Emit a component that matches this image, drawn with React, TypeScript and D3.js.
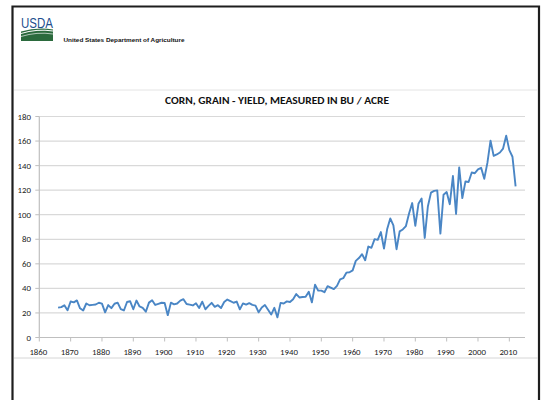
import React from "react";
import * as d3 from "d3";

const FIRST_YEAR = 1866;
const yields: number[] = [
  24.3, 24.7, 26.2, 22.1, 29.3, 28.6, 30.2, 23.8, 22.0, 27.7, // 1866-1875
  26.3, 26.6, 26.9, 28.3, 27.6, 20.5, 26.4, 23.9, 27.5, 28.4, // 1876-1885
  23.1, 22.0, 28.9, 29.5, 23.0, 30.1, 25.3, 24.2, 21.0, 28.4, // 1886-1895
  30.3, 26.5, 27.4, 28.3, 28.1, 18.2, 28.4, 27.0, 27.7, 30.0, // 1896-1905
  31.2, 27.3, 26.8, 26.1, 27.9, 24.0, 29.2, 23.0, 25.8, 28.2, // 1906-1915
  25.0, 26.3, 24.0, 28.9, 30.9, 29.6, 28.3, 29.3, 22.9, 27.8, // 1916-1925
  26.8, 28.0, 26.6, 26.0, 20.5, 24.5, 26.5, 22.6, 18.7, 24.2, // 1926-1935
  16.4, 28.2, 27.7, 29.4, 28.9, 31.2, 35.4, 32.6, 33.0, 33.1, // 1936-1945
  37.2, 28.6, 43.0, 38.2, 38.2, 36.9, 41.8, 40.7, 39.4, 42.0, // 1946-1955
  47.4, 48.3, 52.8, 53.1, 54.7, 62.4, 64.7, 67.9, 62.9, 74.1, // 1956-1965
  73.1, 80.1, 79.5, 85.9, 72.4, 88.1, 97.0, 91.3, 71.9, 86.4, // 1966-1975
  88.0, 90.8, 101.0, 109.5, 91.0, 108.9, 113.2, 81.1, 106.7, 118.0, // 1976-1985
  119.4, 119.8, 84.6, 116.3, 118.5, 108.6, 131.5, 100.7, 138.6, 113.5, // 1986-1995
  127.1, 126.7, 134.4, 133.8, 136.9, 138.2, 129.3, 142.2, 160.3, 147.9, // 1996-2005
  149.1, 150.7, 153.9, 164.4, 152.6, 147.2, 123.1, // 2006-2012
];
const yTicks = [0, 20, 40, 60, 80, 100, 120, 140, 160, 180];
const xTicks = [1860, 1870, 1880, 1890, 1900, 1910, 1920, 1930, 1940, 1950, 1960, 1970, 1980, 1990, 2000, 2010];
const title = "CORN, GRAIN - YIELD, MEASURED IN BU / ACRE";
const agencyName = "United States Department of Agriculture";
const logoText = "USDA";

export default function App() {
  const W = 543, H = 400;
  const x = d3.scaleLinear().domain([1860, 2015]).range([39.3, 525]);
  const y = d3.scaleLinear().domain([0, 180]).range([337.5, 116.5]);
  const points = yields.map((v, i) => [FIRST_YEAR + i, v] as [number, number]);
  const line = d3.line<[number, number]>().x(d => x(d[0])).y(d => y(d[1]));
  const font = "Carlito, Lato, 'Liberation Sans', sans-serif";
  return (
    <svg width={W} height={H} style={{ position: "absolute", left: 0, top: 0, background: "#fff" }}>
      <rect x={0} y={0} width={W} height={H} fill="#fff" />
      {/* frame */}
      <path d={`M12.5,${H + 5} L12.5,6.5 L539,6.5 L539,${H + 5}`} fill="none" stroke="#1e1e1e" strokeWidth={2.2} />
      {/* logo */}
      <text x={21} y={28} fontFamily="'Liberation Sans', Arial, sans-serif" fontSize={14} fill="#1d4f8e" textLength={32} lengthAdjust="spacingAndGlyphs">{logoText}</text>
      <path d="M21,31.5 Q37,27 53,29.5 L53,41 L21,41 Z" fill="#2b6a3d" />
      <path d="M21,33.5 Q37,28.5 53,31" fill="none" stroke="#fff" strokeWidth={1} />
      <path d="M21,36.5 Q37,31.5 53,34" fill="none" stroke="#fff" strokeWidth={0.8} opacity={0.8} />
      <text x={63.5} y={41.5} fontFamily="'Liberation Sans', Arial, sans-serif" fontSize={5.8} fontWeight="bold" fill="#111" textLength={121} lengthAdjust="spacingAndGlyphs">{agencyName}</text>
      {/* separators */}
      <line x1={14} x2={538} y1={90} y2={90} stroke="#e4e4e4" strokeWidth={1} />
      <line x1={14} x2={538} y1={358} y2={358} stroke="#d6d6d6" strokeWidth={1} />
      {/* title */}
      <text x={277} y={104} textAnchor="middle" fontFamily={font} fontSize={10.5} fontWeight="bold" fill="#111" textLength={224} lengthAdjust="spacingAndGlyphs">{title}</text>
      {/* grid */}
      {yTicks.filter(t => t > 0).map(t => (
        <line key={"g" + t} x1={x(1860)} x2={x(2015)} y1={y(t)} y2={y(t)} stroke="#d9d9d9" strokeWidth={1.2} />
      ))}
      {/* axes */}
      <line x1={x(1860)} x2={x(2015)} y1={y(0)} y2={y(0)} stroke="#bfbfbf" strokeWidth={1.2} />
      <line x1={x(1860)} x2={x(1860)} y1={y(180)} y2={y(0)} stroke="#bfbfbf" strokeWidth={1.2} />
      {yTicks.map(t => (
        <g key={"y" + t}>
          <line x1={x(1860) - 4} x2={x(1860)} y1={y(t)} y2={y(t)} stroke="#bfbfbf" strokeWidth={1} />
          <text x={31} y={y(t)} dy="0.35em" textAnchor="end" fontFamily={font} fontSize={8.8} fill="#222">{t}</text>
        </g>
      ))}
      {xTicks.map(t => (
        <g key={"x" + t}>
          <line x1={x(t)} x2={x(t)} y1={y(0)} y2={y(0) + 4} stroke="#bfbfbf" strokeWidth={1} />
          <text x={x(t) - 1} y={354.5} textAnchor="middle" fontFamily={font} fontSize={8.8} fill="#222">{t}</text>
        </g>
      ))}
      {/* series */}
      <path d={line(points) || ""} fill="none" stroke="#4a86c5" strokeWidth={1.9} strokeLinejoin="round" />
    </svg>
  );
}
